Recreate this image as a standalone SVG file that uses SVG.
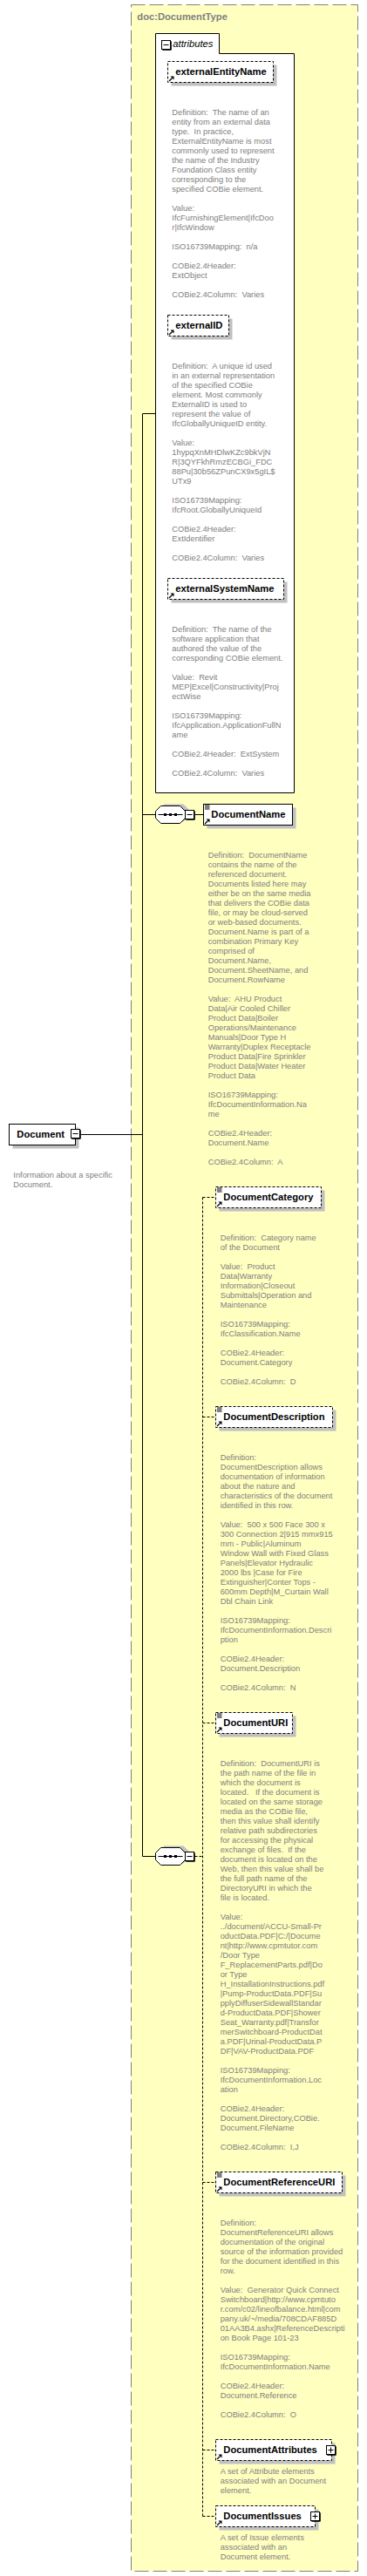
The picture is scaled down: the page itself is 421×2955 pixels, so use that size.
<svg xmlns="http://www.w3.org/2000/svg" xmlns:xlink="http://www.w3.org/1999/xlink" width="421" height="2955" viewBox="0 0 421 2955">
<style>
.desc{font-family:"Liberation Sans",Arial,sans-serif;font-size:9.3px;fill:#808080}
.name{font-family:"Liberation Sans",Arial,sans-serif;font-size:11.2px;font-weight:bold;fill:#000}
.title{font-family:"Liberation Sans",Arial,sans-serif;font-size:11.2px;font-weight:bold;fill:#808080}
.ital{font-family:"Liberation Sans",Arial,sans-serif;font-size:11.2px;font-style:italic;fill:#000}
.shadow{fill:#c0c0c0}
.node{fill:#fff;stroke:#000;stroke-width:1}
.opt{fill:#fff;stroke:#000;stroke-width:1;stroke-dasharray:3,2}
.conn{fill:none;stroke:#000;stroke-width:1}
.dconn{fill:none;stroke:#000;stroke-width:1;stroke-dasharray:3,2}
.ico{fill:none;stroke:#000;stroke-width:1}
</style>
<defs>
<g id="refArrow"><path d="M1.5,-1.5 L5,-5" fill="none" stroke="#000" stroke-width="1.3"/><polygon points="3,-7 7,-7 7,-3" fill="#000"/></g>
<g id="listIco"><path d="M1.5,1.5 H7 M1.5,3.5 H7 M1.5,5.5 H7" fill="none" stroke="#000" stroke-width="1"/></g>
<g id="minusBox"><rect x="0" y="0" width="10" height="10" fill="#fff" stroke="#000"/><path d="M10.8,0.8 V10.8 H0.8" fill="none" stroke="#000" stroke-width="1"/><path d="M2,5 H8" stroke="#000" stroke-width="1"/></g>
<g id="plusBox"><rect x="0" y="0" width="10" height="10" fill="#fff" stroke="#000"/><path d="M10.8,0.8 V10.8 H0.8" fill="none" stroke="#000" stroke-width="1"/><path d="M2,5 H8 M5,2 V8" stroke="#000" stroke-width="1"/></g>
<g id="seq"><polygon points="4,-6 10,-12 32,-12 38,-6 38,2 32,8 10,8 4,2" class="shadow"/><polygon points="0,-4 6,-10 28,-10 34,-4 34,4 28,10 6,10 0,4" fill="#fff" stroke="#000"/><path d="M3,0 H31" stroke="#000"/><rect x="9.5" y="-1.5" width="3" height="3" fill="#000"/><rect x="15.5" y="-1.5" width="3" height="3" fill="#000"/><rect x="21.5" y="-1.5" width="3" height="3" fill="#000"/></g>
</defs>
<rect x="0" y="0" width="421" height="2955" fill="#fff"/>

<g id="DocumentType">
<rect x="150.5" y="5.5" width="260" height="2944" fill="#ffffc0" stroke="#808080" stroke-width="1" stroke-dasharray="16,5"/>
<text class="title" x="157.3" y="22.7">doc:DocumentType</text>
</g>

<g id="connectors">
<path class="conn" d="M92.5,1301.5 H163.5 M163.5,474.5 V2129.5 M163.5,474.5 H178.5 M163.5,934.5 H178.5 M163.5,2129.5 H178.5 M223.5,934.5 H233.5"/>
<path class="dconn" d="M223.5,2129.5 H232.5 M232.5,1373.5 V2886.5 M232.5,1373.5 H247.5 M232.5,1625.5 H247.5 M232.5,1976.5 H247.5 M232.5,2503.5 H247.5 M232.5,2810.5 H247.5 M232.5,2886.5 H247.5"/>
</g>

<g id="attributes">
<path d="M178.5,909.5 V38.5 H251.5 V61.5 H337.5 V909.5 Z" fill="#fff" stroke="#000"/>
<path d="M251.5,61.5 H178.5" stroke="#fff" stroke-width="0"/>
<use xlink:href="#minusBox" x="185.5" y="46.5"/>
<text class="ital" x="198.3" y="54">attributes</text>
</g>

<g id="externalEntityName">
<rect class="shadow" x="196.5" y="74.5" width="121" height="24"/>
<rect class="opt" x="192.5" y="70.5" width="121" height="24"/>
<use xlink:href="#refArrow" x="192.5" y="94.5"/>
<text class="name" x="201.3" y="85.5">externalEntityName</text>
<text class="desc" x="197.3" y="132"><tspan x="197.3">Definition:&#160; The name of an</tspan><tspan x="197.3" dy="11">entity from an external data</tspan><tspan x="197.3" dy="11">type.&#160; In practice,</tspan><tspan x="197.3" dy="11">ExternalEntityName is most</tspan><tspan x="197.3" dy="11">commonly used to represent</tspan><tspan x="197.3" dy="11">the name of the Industry</tspan><tspan x="197.3" dy="11">Foundation Class entity</tspan><tspan x="197.3" dy="11">corresponding to the</tspan><tspan x="197.3" dy="11">specified COBie element.</tspan><tspan x="197.3" dy="22">Value:</tspan><tspan x="197.3" dy="11">IfcFurnishingElement|IfcDoo</tspan><tspan x="197.3" dy="11">r|IfcWindow</tspan><tspan x="197.3" dy="22">ISO16739Mapping:&#160; n/a</tspan><tspan x="197.3" dy="22">COBie2.4Header:</tspan><tspan x="197.3" dy="11">ExtObject</tspan><tspan x="197.3" dy="22">COBie2.4Column:&#160; Varies</tspan></text>
</g>

<g id="externalID">
<rect class="shadow" x="196.5" y="365.5" width="70" height="24"/>
<rect class="opt" x="192.5" y="361.5" width="70" height="24"/>
<use xlink:href="#refArrow" x="192.5" y="385.5"/>
<text class="name" x="201.3" y="376.5">externalID</text>
<text class="desc" x="197.3" y="423"><tspan x="197.3">Definition:&#160; A unique id used</tspan><tspan x="197.3" dy="11">in an external representation</tspan><tspan x="197.3" dy="11">of the specified COBie</tspan><tspan x="197.3" dy="11">element. Most commonly</tspan><tspan x="197.3" dy="11">ExternalID is used to</tspan><tspan x="197.3" dy="11">represent the value of</tspan><tspan x="197.3" dy="11">IfcGloballyUniqueID entity.</tspan><tspan x="197.3" dy="22">Value:</tspan><tspan x="197.3" dy="11">1hypqXnMHDlwKZc9bkVjN</tspan><tspan x="197.3" dy="11">R|3QYFkhRmzECBGi_FDC</tspan><tspan x="197.3" dy="11">88Pu|30b56ZPunCX9x5gIL$</tspan><tspan x="197.3" dy="11">UTx9</tspan><tspan x="197.3" dy="22">ISO16739Mapping:</tspan><tspan x="197.3" dy="11">IfcRoot.GloballyUniqueId</tspan><tspan x="197.3" dy="22">COBie2.4Header:</tspan><tspan x="197.3" dy="11">ExtIdentifier</tspan><tspan x="197.3" dy="22">COBie2.4Column:&#160; Varies</tspan></text>
</g>

<g id="externalSystemName">
<rect class="shadow" x="196.5" y="667.5" width="133" height="24"/>
<rect class="opt" x="192.5" y="663.5" width="133" height="24"/>
<use xlink:href="#refArrow" x="192.5" y="687.5"/>
<text class="name" x="201.3" y="678.5">externalSystemName</text>
<text class="desc" x="197.3" y="725"><tspan x="197.3">Definition:&#160; The name of the</tspan><tspan x="197.3" dy="11">software application that</tspan><tspan x="197.3" dy="11">authored the value of the</tspan><tspan x="197.3" dy="11">corresponding COBie element.</tspan><tspan x="197.3" dy="22">Value:&#160; Revit</tspan><tspan x="197.3" dy="11">MEP|Excel|Constructivity|Proj</tspan><tspan x="197.3" dy="11">ectWise</tspan><tspan x="197.3" dy="22">ISO16739Mapping:</tspan><tspan x="197.3" dy="11">IfcApplication.ApplicationFullN</tspan><tspan x="197.3" dy="11">ame</tspan><tspan x="197.3" dy="22">COBie2.4Header:&#160; ExtSystem</tspan><tspan x="197.3" dy="22">COBie2.4Column:&#160; Varies</tspan></text>
</g>

<g id="sequence1">
<use xlink:href="#seq" x="178.5" y="934.5"/>
<use xlink:href="#minusBox" x="212.5" y="929.5"/>
</g>

<g id="DocumentName">
<rect class="shadow" x="237.5" y="926.5" width="102" height="24"/>
<rect class="node" x="233.5" y="922.5" width="102" height="24"/>
<use xlink:href="#listIco" x="233.5" y="922.5"/>
<use xlink:href="#refArrow" x="233.5" y="946.5"/>
<text class="name" x="242.3" y="937.5">DocumentName</text>
<text class="desc" x="238.7" y="984"><tspan x="238.7">Definition:&#160; DocumentName</tspan><tspan x="238.7" dy="11">contains the name of the</tspan><tspan x="238.7" dy="11">referenced document.</tspan><tspan x="238.7" dy="11">Documents listed here may</tspan><tspan x="238.7" dy="11">either be on the same media</tspan><tspan x="238.7" dy="11">that delivers the COBie data</tspan><tspan x="238.7" dy="11">file, or may be cloud-served</tspan><tspan x="238.7" dy="11">or web-based documents.</tspan><tspan x="238.7" dy="11">Document.Name is part of a</tspan><tspan x="238.7" dy="11">combination Primary Key</tspan><tspan x="238.7" dy="11">comprised of</tspan><tspan x="238.7" dy="11">Document.Name,</tspan><tspan x="238.7" dy="11">Document.SheetName, and</tspan><tspan x="238.7" dy="11">Document.RowName</tspan><tspan x="238.7" dy="22">Value:&#160; AHU Product</tspan><tspan x="238.7" dy="11">Data|Air Cooled Chiller</tspan><tspan x="238.7" dy="11">Product Data|Boiler</tspan><tspan x="238.7" dy="11">Operations/Maintenance</tspan><tspan x="238.7" dy="11">Manuals|Door Type H</tspan><tspan x="238.7" dy="11">Warranty|Duplex Receptacle</tspan><tspan x="238.7" dy="11">Product Data|Fire Sprinkler</tspan><tspan x="238.7" dy="11">Product Data|Water Heater</tspan><tspan x="238.7" dy="11">Product Data</tspan><tspan x="238.7" dy="22">ISO16739Mapping:</tspan><tspan x="238.7" dy="11">IfcDocumentInformation.Na</tspan><tspan x="238.7" dy="11">me</tspan><tspan x="238.7" dy="22">COBie2.4Header:</tspan><tspan x="238.7" dy="11">Document.Name</tspan><tspan x="238.7" dy="22">COBie2.4Column:&#160; A</tspan></text>
</g>

<g id="Document">
<rect class="shadow" x="14.5" y="1293.5" width="76" height="24"/>
<rect class="node" x="10.5" y="1289.5" width="76" height="24"/>
<text class="name" x="19.3" y="1304.5">Document</text>
<use xlink:href="#minusBox" x="81.5" y="1295.5"/>
<text class="desc" x="15.3" y="1351"><tspan x="15.3">Information about a specific</tspan><tspan x="15.3" dy="11">Document.</tspan></text>
</g>

<g id="DocumentCategory">
<rect class="shadow" x="251.5" y="1365.5" width="121" height="24"/>
<rect class="opt" x="247.5" y="1361.5" width="121" height="24"/>
<use xlink:href="#listIco" x="247.5" y="1361.5"/>
<use xlink:href="#refArrow" x="247.5" y="1385.5"/>
<text class="name" x="256.3" y="1376.5">DocumentCategory</text>
<text class="desc" x="252.7" y="1423"><tspan x="252.7">Definition:&#160; Category name</tspan><tspan x="252.7" dy="11">of the Document</tspan><tspan x="252.7" dy="22">Value:&#160; Product</tspan><tspan x="252.7" dy="11">Data|Warranty</tspan><tspan x="252.7" dy="11">Information|Closeout</tspan><tspan x="252.7" dy="11">Submittals|Operation and</tspan><tspan x="252.7" dy="11">Maintenance</tspan><tspan x="252.7" dy="22">ISO16739Mapping:</tspan><tspan x="252.7" dy="11">IfcClassification.Name</tspan><tspan x="252.7" dy="22">COBie2.4Header:</tspan><tspan x="252.7" dy="11">Document.Category</tspan><tspan x="252.7" dy="22">COBie2.4Column:&#160; D</tspan></text>
</g>

<g id="DocumentDescription">
<rect class="shadow" x="251.5" y="1617.5" width="134" height="24"/>
<rect class="opt" x="247.5" y="1613.5" width="134" height="24"/>
<use xlink:href="#listIco" x="247.5" y="1613.5"/>
<use xlink:href="#refArrow" x="247.5" y="1637.5"/>
<text class="name" x="256.3" y="1628.5">DocumentDescription</text>
<text class="desc" x="252.7" y="1675"><tspan x="252.7">Definition:</tspan><tspan x="252.7" dy="11">DocumentDescription allows</tspan><tspan x="252.7" dy="11">documentation of information</tspan><tspan x="252.7" dy="11">about the nature and</tspan><tspan x="252.7" dy="11">characteristics of the document</tspan><tspan x="252.7" dy="11">identified in this row.</tspan><tspan x="252.7" dy="22">Value:&#160; 500 x 500 Face 300 x</tspan><tspan x="252.7" dy="11">300 Connection 2|915 mmx915</tspan><tspan x="252.7" dy="11">mm - Public|Aluminum</tspan><tspan x="252.7" dy="11">Window Wall with Fixed Glass</tspan><tspan x="252.7" dy="11">Panels|Elevator Hydraulic</tspan><tspan x="252.7" dy="11">2000 lbs |Case for Fire</tspan><tspan x="252.7" dy="11">Extinguisher|Conter Tops -</tspan><tspan x="252.7" dy="11">600mm Depth|M_Curtain Wall</tspan><tspan x="252.7" dy="11">Dbl Chain Link</tspan><tspan x="252.7" dy="22">ISO16739Mapping:</tspan><tspan x="252.7" dy="11">IfcDocumentInformation.Descri</tspan><tspan x="252.7" dy="11">ption</tspan><tspan x="252.7" dy="22">COBie2.4Header:</tspan><tspan x="252.7" dy="11">Document.Description</tspan><tspan x="252.7" dy="22">COBie2.4Column:&#160; N</tspan></text>
</g>

<g id="sequence2">
<use xlink:href="#seq" x="178.5" y="2129.5"/>
<use xlink:href="#minusBox" x="212.5" y="2124.5"/>
</g>

<g id="DocumentURI">
<rect class="shadow" x="251.5" y="1968.5" width="88" height="24"/>
<rect class="opt" x="247.5" y="1964.5" width="88" height="24"/>
<use xlink:href="#listIco" x="247.5" y="1964.5"/>
<use xlink:href="#refArrow" x="247.5" y="1988.5"/>
<text class="name" x="256.3" y="1979.5">DocumentURI</text>
<text class="desc" x="252.7" y="2026.4"><tspan x="252.7">Definition:&#160; DocumentURI is</tspan><tspan x="252.7" dy="11">the path name of the file in</tspan><tspan x="252.7" dy="11">which the document is</tspan><tspan x="252.7" dy="11">located.&#160;&#160; If the document is</tspan><tspan x="252.7" dy="11">located on the same storage</tspan><tspan x="252.7" dy="11">media as the COBie file,</tspan><tspan x="252.7" dy="11">then this value shall identify</tspan><tspan x="252.7" dy="11">relative path subdirectories</tspan><tspan x="252.7" dy="11">for accessing the physical</tspan><tspan x="252.7" dy="11">exchange of files.&#160; If the</tspan><tspan x="252.7" dy="11">document is located on the</tspan><tspan x="252.7" dy="11">Web, then this value shall be</tspan><tspan x="252.7" dy="11">the full path name of the</tspan><tspan x="252.7" dy="11">DirectoryURI in which the</tspan><tspan x="252.7" dy="11">file is located.</tspan><tspan x="252.7" dy="22">Value:</tspan><tspan x="252.7" dy="11">../document/ACCU-Small-Pr</tspan><tspan x="252.7" dy="11">oductData.PDF|C:/|Docume</tspan><tspan x="252.7" dy="11">nt|http://www.cpmtutor.com</tspan><tspan x="252.7" dy="11">/Door Type</tspan><tspan x="252.7" dy="11">F_ReplacementParts.pdf|Do</tspan><tspan x="252.7" dy="11">or Type</tspan><tspan x="252.7" dy="11">H_InstallationInstructions.pdf</tspan><tspan x="252.7" dy="11">|Pump-ProductData.PDF|Su</tspan><tspan x="252.7" dy="11">pplyDiffuserSidewallStandar</tspan><tspan x="252.7" dy="11">d-ProductData.PDF|Shower</tspan><tspan x="252.7" dy="11">Seat_Warranty.pdf|Transfor</tspan><tspan x="252.7" dy="11">merSwitchboard-ProductDat</tspan><tspan x="252.7" dy="11">a.PDF|Urinal-ProductData.P</tspan><tspan x="252.7" dy="11">DF|VAV-ProductData.PDF</tspan><tspan x="252.7" dy="22">ISO16739Mapping:</tspan><tspan x="252.7" dy="11">IfcDocumentInformation.Loc</tspan><tspan x="252.7" dy="11">ation</tspan><tspan x="252.7" dy="22">COBie2.4Header:</tspan><tspan x="252.7" dy="11">Document.Directory,COBie.</tspan><tspan x="252.7" dy="11">Document.FileName</tspan><tspan x="252.7" dy="22">COBie2.4Column:&#160; I,J</tspan></text>
</g>

<g id="DocumentReferenceURI">
<rect class="shadow" x="251.5" y="2495.5" width="145" height="24"/>
<rect class="opt" x="247.5" y="2491.5" width="145" height="24"/>
<use xlink:href="#listIco" x="247.5" y="2491.5"/>
<use xlink:href="#refArrow" x="247.5" y="2515.5"/>
<text class="name" x="256.3" y="2506.5">DocumentReferenceURI</text>
<text class="desc" x="252.7" y="2553"><tspan x="252.7">Definition:</tspan><tspan x="252.7" dy="11">DocumentReferenceURI allows</tspan><tspan x="252.7" dy="11">documentation of the original</tspan><tspan x="252.7" dy="11">source of the information provided</tspan><tspan x="252.7" dy="11">for the document identified in this</tspan><tspan x="252.7" dy="11">row.</tspan><tspan x="252.7" dy="22">Value:&#160; Generator Quick Connect</tspan><tspan x="252.7" dy="11">Switchboard|http://www.cpmtuto</tspan><tspan x="252.7" dy="11">r.com/c02/lineofbalance.html|com</tspan><tspan x="252.7" dy="11">pany.uk/~/media/708CDAF885D</tspan><tspan x="252.7" dy="11">01AA3B4.ashx|ReferenceDescripti</tspan><tspan x="252.7" dy="11">on Book Page 101-23</tspan><tspan x="252.7" dy="22">ISO16739Mapping:</tspan><tspan x="252.7" dy="11">IfcDocumentInformation.Name</tspan><tspan x="252.7" dy="22">COBie2.4Header:</tspan><tspan x="252.7" dy="11">Document.Reference</tspan><tspan x="252.7" dy="22">COBie2.4Column:&#160; O</tspan></text>
</g>

<g id="DocumentAttributes">
<rect class="shadow" x="251.5" y="2802.5" width="133" height="24"/>
<rect class="opt" x="247.5" y="2798.5" width="133" height="24"/>
<use xlink:href="#refArrow" x="247.5" y="2822.5"/>
<text class="name" x="256.3" y="2813.5">DocumentAttributes</text>
<use xlink:href="#plusBox" x="374.5" y="2805.5"/>
<text class="desc" x="252.7" y="2838"><tspan x="252.7">A set of Attribute elements</tspan><tspan x="252.7" dy="11">associated with an Document</tspan><tspan x="252.7" dy="11">element.</tspan></text>
</g>

<g id="DocumentIssues">
<rect class="shadow" x="251.5" y="2878.5" width="114" height="24"/>
<rect class="opt" x="247.5" y="2874.5" width="114" height="24"/>
<use xlink:href="#refArrow" x="247.5" y="2898.5"/>
<text class="name" x="256.3" y="2889.5">DocumentIssues</text>
<use xlink:href="#plusBox" x="356.5" y="2881.5"/>
<text class="desc" x="252.7" y="2914"><tspan x="252.7">A set of Issue elements</tspan><tspan x="252.7" dy="11">associated with an</tspan><tspan x="252.7" dy="11">Document element.</tspan></text>
</g>
</svg>
